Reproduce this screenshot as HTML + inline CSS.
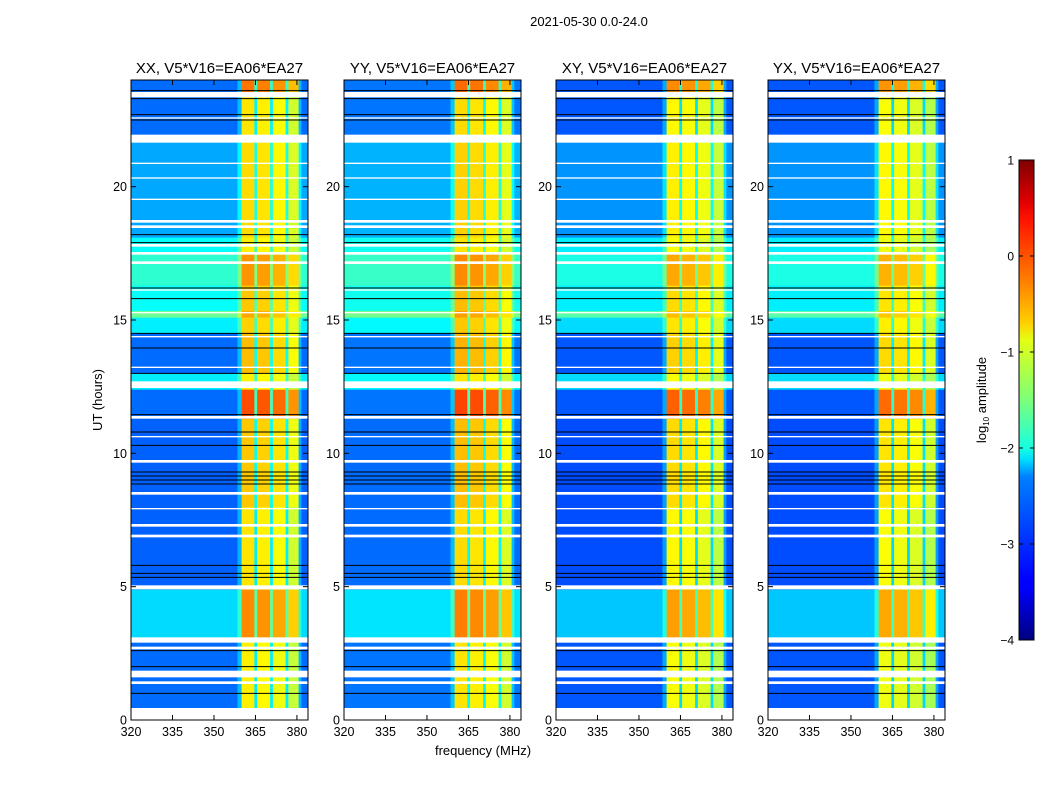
<!DOCTYPE html>
<html><head><meta charset="utf-8">
<style>
body{margin:0;background:#fff;}
svg text{font-family:"Liberation Sans",sans-serif;fill:#000;}
</style></head>
<body>
<svg id="fig" width="1050" height="800" viewBox="0 0 1050 800" xmlns="http://www.w3.org/2000/svg">
<defs>
<linearGradient id="jet" x1="0" y1="1" x2="0" y2="0">
<stop offset="0" stop-color="#00007f"/><stop offset="0.11" stop-color="#0000ff"/><stop offset="0.125" stop-color="#0000ff"/>
<stop offset="0.34" stop-color="#0080ff"/><stop offset="0.375" stop-color="#00dcfe"/><stop offset="0.4" stop-color="#16ffe1"/>
<stop offset="0.5" stop-color="#7dff7a"/><stop offset="0.625" stop-color="#e4ff13"/><stop offset="0.66" stop-color="#ffd000"/>
<stop offset="0.75" stop-color="#ff7d00"/><stop offset="0.875" stop-color="#ff1400"/><stop offset="0.91" stop-color="#e50000"/><stop offset="1" stop-color="#7f0000"/>
</linearGradient>
</defs>
<text x="589" y="26" font-size="13" text-anchor="middle">2021-05-30 0.0-24.0</text>
<text x="483" y="755" font-size="13" text-anchor="middle">frequency (MHz)</text>
<text transform="translate(102,400) rotate(-90)" font-size="13" text-anchor="middle">UT (hours)</text>
<g id="panels"></g>
<g>
<rect x="1019" y="160" width="15" height="480" fill="url(#jet)" stroke="#000" stroke-width="1"/>
<g id="cbticks"></g>
<text transform="translate(986,400) rotate(-90)" font-size="13" text-anchor="middle">log<tspan font-size="8" dy="3">10</tspan><tspan dy="-3"> amplitude</tspan></text>
</g>
</svg>
<script>
// ---- data ----
const panelTitles = ["XX, V5*V16=EA06*EA27","YY, V5*V16=EA06*EA27","XY, V5*V16=EA06*EA27","YX, V5*V16=EA06*EA27"];
const panelBgOffset = [0, 0.05, -0.1, -0.1];
const panelBandOffset = [0, 0.05, -0.1, -0.15];
const xTicks = [320,335,350,365,380];
const yTicks = [0,5,10,15,20];
const cbTicks = [1,0,-1,-2,-3,-4];
// time segments: start hour, end hour, background log amp, band log amp
const segStart = [0,3.0,4.9,8.0,11.3,12.4,13.0,14.5,15.1,15.35,16.3,17.5,18.1,21.7,23.4];
const segEnd   = [3.0,4.9,8.0,11.3,12.4,13.0,14.5,15.1,15.35,16.3,17.5,18.1,21.7,23.4,24];
const segBg    = [-2.85,-2.3,-2.9,-2.9,-2.85,-2.2,-2.85,-2.2,-1.6,-2.1,-1.9,-2.1,-2.55,-2.85,-2.85];
const segBand  = [-0.95,-0.45,-0.9,-0.75,-0.15,-0.95,-0.7,-0.8,-0.6,-0.75,-0.5,-0.95,-0.85,-0.9,-0.35];
// channel segments (MHz) and type
const chanStart = [320,358.5,360,364.6,365.6,370.3,371.3,375.9,376.9,380.6,381.6];
const chanEnd   = [358.5,360,364.6,365.6,370.3,371.3,375.9,376.9,380.6,381.6,384];
const chanType  = ["bg","edge","band","gap","band","gap","band","gap","band","edge","bg"];
const chanBandOffset = [0,0,0.15,0,0.1,0,0,0,-0.2,0,0];
// flagged (white) time ranges
const flagStart = [0,1.35,1.6,2.65,2.9,4.9,6.85,7.25,7.9,8.45,9.65,10.6,11.3,12.45,13.2,14.35,15.25,16.1,17.1,17.45,17.75,18.45,18.65,19.5,20.3,20.85,21.65,22.55,23.35];
const flagEnd   = [0.45,1.45,1.85,2.75,3.1,5.05,6.95,7.35,7.95,8.55,9.75,10.65,11.4,12.7,13.25,14.4,15.3,16.15,17.2,17.55,17.85,18.55,18.75,19.55,20.35,20.9,21.95,22.6,23.55];
// black line hours
const blackLines = [1.0,2.0,2.6,5.35,5.5,5.8,8.85,9.0,9.15,9.3,10.3,10.8,11.45,13.0,13.95,14.5,15.8,16.2,17.9,18.2,22.5,22.7,23.3,23.6];

// ---- layout ----
const panelLeft = [131,344,556,768];
const PW = 177, PT = 80, PB = 720;
const fMin = 320, fMax = 384, tMin = 0, tMax = 24;
const NS = "http://www.w3.org/2000/svg";
function mk(tag, attrs, parent){const e=document.createElementNS(NS,tag);for(const k in attrs)e.setAttribute(k,attrs[k]);parent.appendChild(e);return e;}
function cl(v){return Math.max(0,Math.min(1,v));}
function jet(v){const t=cl((v+4)/5);
  const r=cl(1.5-Math.abs(4*t-3)),g=cl(1.5-Math.abs(4*t-2)),b=cl(1.5-Math.abs(4*t-1));
  return `rgb(${Math.round(r*255)},${Math.round(g*255)},${Math.round(b*255)})`;}
const yS = h => PB - (h - tMin) / (tMax - tMin) * (PB - PT);
const panels = document.getElementById('panels');

panelTitles.forEach((title, p) => {
  const L = panelLeft[p];
  const xS = f => L + (f - fMin) / (fMax - fMin) * PW;
  const g = mk('g', {}, panels);
  
  
  segStart.forEach((s, i) => {
    const bg = segBg[i] + panelBgOffset[p];
    const band = segBand[i] + panelBandOffset[p];
    chanStart.forEach((c, j) => {
      let v;
      if (chanType[j] === "bg") v = bg;
      else if (chanType[j] === "edge") v = bg + 0.4;
      else if (chanType[j] === "gap") v = (bg + band) / 2 - 0.3;
      else v = band + chanBandOffset[j];
      const x0 = xS(c), x1 = xS(chanEnd[j]), y0 = yS(segEnd[i]), y1 = yS(s);
      const r = mk('rect', {x: x0, y: y0, width: x1 - x0 + 0.3, height: y1 - y0 + 0.3, fill: jet(v)}, g);
      
      
    });
  });
  flagStart.forEach((s, i) => {
    const r = mk('rect', {x: L, y: yS(flagEnd[i]), width: PW, height: yS(s) - yS(flagEnd[i]), fill: '#fff'}, g);
    
    
  });
  blackLines.forEach(h => {
    const l = mk('line', {x1: L, x2: L + PW, y1: yS(h), y2: yS(h), stroke: '#000', 'stroke-width': 1}, g);
    
    
  });
  const fr = mk('rect', {x: L, y: PT, width: PW, height: PB - PT, fill: 'none', stroke: '#000', 'stroke-width': 1}, g);
  
  
  const t = mk('text', {x: L + PW / 2, y: 73, 'font-size': 15, 'text-anchor': 'middle'}, g);
  t.textContent = title;
  
  
  xTicks.forEach(f => {
    const x = xS(f);
    mk('line', {x1: x, x2: x, y1: PB, y2: PB - 5, stroke: '#000'}, g);
    mk('line', {x1: x, x2: x, y1: PT, y2: PT + 5, stroke: '#000'}, g);
    const tx = mk('text', {x: x, y: PB + 16, 'font-size': 12.5, 'text-anchor': 'middle'}, g);
    tx.textContent = f;
    
    
  });
  yTicks.forEach(h => {
    const y = yS(h);
    mk('line', {x1: L, x2: L + 5, y1: y, y2: y, stroke: '#000'}, g);
    mk('line', {x1: L + PW, x2: L + PW - 5, y1: y, y2: y, stroke: '#000'}, g);
    const ty = mk('text', {x: L - 4, y: y + 4.5, 'font-size': 12.5, 'text-anchor': 'end'}, g);
    ty.textContent = h;
    
    
  });
});

const cb = document.getElementById('cbticks');
cbTicks.forEach(v => {
  const y = 640 - (v + 4) / 5 * 480;
  mk('line', {x1: 1019, x2: 1023, y1: y, y2: y, stroke: '#000'}, cb);
  mk('line', {x1: 1030, x2: 1034, y1: y, y2: y, stroke: '#000'}, cb);
  const t = mk('text', {x: 1014, y: y + 4.5, 'font-size': 12, 'text-anchor': 'end'}, cb);
  t.textContent = v < 0 ? '\u2212' + (-v) : String(v);
  
  
});
</script>
</body></html>
